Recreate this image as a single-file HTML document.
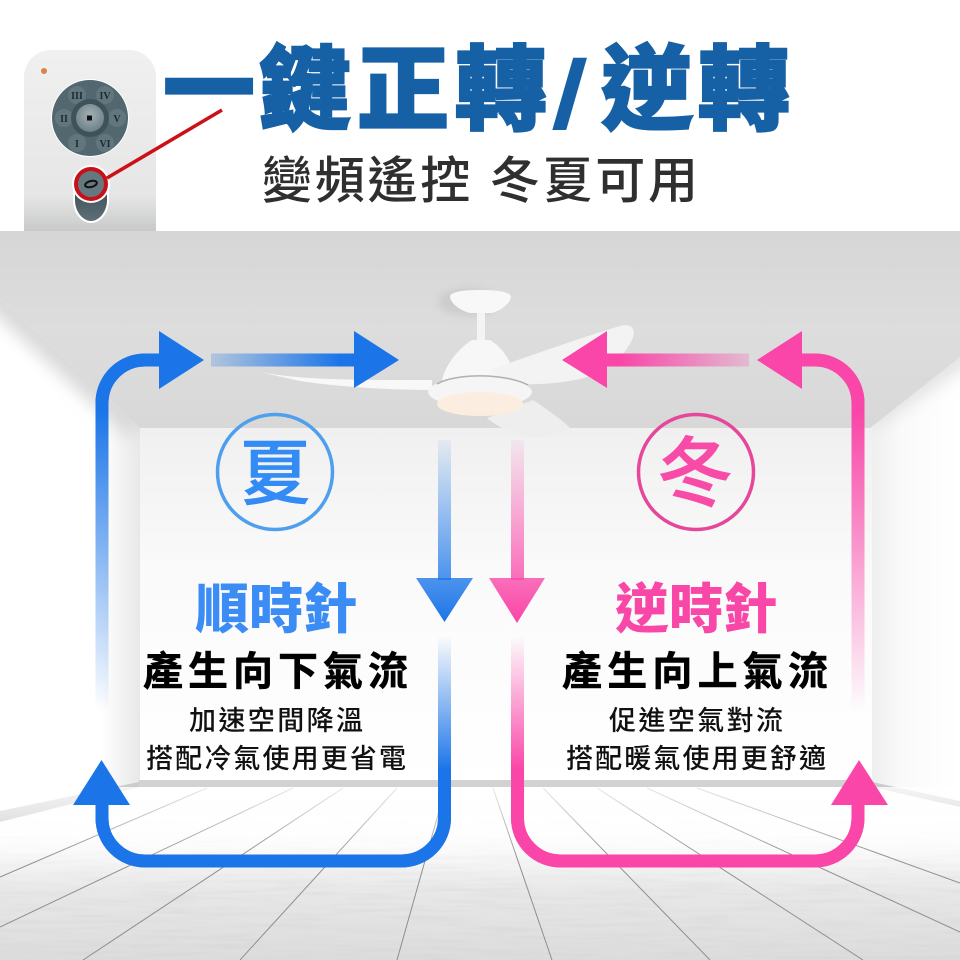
<!DOCTYPE html>
<html><head><meta charset="utf-8">
<style>html,body{margin:0;padding:0;background:#fff}svg{display:block}
text{font-family:"Liberation Sans","Noto Sans CJK TC",sans-serif}</style></head>
<body>
<svg width="960" height="960" viewBox="0 0 960 960" xmlns="http://www.w3.org/2000/svg">
<defs>
<linearGradient id="ceil" x1="0" y1="0" x2="0" y2="1"><stop offset="0" stop-color="#d6d6d6"/><stop offset=".5" stop-color="#dddddd"/><stop offset="1" stop-color="#d8d8d8"/></linearGradient>
<linearGradient id="back" x1="0" y1="0" x2="0" y2="1"><stop offset="0" stop-color="#f0f0f0"/><stop offset=".4" stop-color="#fafafa"/><stop offset="1" stop-color="#fff"/></linearGradient>
<linearGradient id="floor" gradientUnits="userSpaceOnUse" x1="0" y1="787" x2="0" y2="960"><stop offset="0" stop-color="#fff"/><stop offset=".25" stop-color="#fcfcfc"/><stop offset=".5" stop-color="#ebebeb"/><stop offset="1" stop-color="#dcdcdc"/></linearGradient>
<linearGradient id="fade" gradientUnits="userSpaceOnUse" x1="0" y1="787" x2="0" y2="860"><stop offset="0" stop-color="#fff" stop-opacity=".8"/><stop offset="1" stop-color="#fff" stop-opacity="0"/></linearGradient>
<linearGradient id="fadeM" gradientUnits="userSpaceOnUse" x1="0" y1="815" x2="0" y2="890"><stop offset="0" stop-color="#fff" stop-opacity="1"/><stop offset="1" stop-color="#fff" stop-opacity="0"/></linearGradient>
<linearGradient id="lwall" x1="0" y1="0" x2="1" y2="0"><stop offset="0" stop-color="#fff"/><stop offset=".72" stop-color="#fff"/><stop offset="1" stop-color="#e8e8e8"/></linearGradient>
<linearGradient id="rwall" x1="0" y1="0" x2="1" y2="0"><stop offset="0" stop-color="#eeeeee"/><stop offset=".35" stop-color="#fafafa"/><stop offset="1" stop-color="#fff"/></linearGradient>
<linearGradient id="rem" x1="0" y1="0" x2="0" y2="1"><stop offset="0" stop-color="#f0f0f0"/><stop offset=".8" stop-color="#e6e6e6"/><stop offset="1" stop-color="#c8caca"/></linearGradient>
<linearGradient id="bh" gradientUnits="userSpaceOnUse" x1="211" y1="0" x2="340" y2="0"><stop offset="0" stop-color="#1b75e8" stop-opacity=".22"/><stop offset="1" stop-color="#1b75e8"/></linearGradient>
<linearGradient id="ph" gradientUnits="userSpaceOnUse" x1="749" y1="0" x2="620" y2="0"><stop offset="0" stop-color="#f946a8" stop-opacity=".22"/><stop offset="1" stop-color="#f946a8"/></linearGradient>
<linearGradient id="bd1" gradientUnits="userSpaceOnUse" x1="0" y1="440" x2="0" y2="622"><stop offset="0" stop-color="#1b75e8" stop-opacity=".06"/><stop offset="1" stop-color="#1b75e8"/></linearGradient>
<linearGradient id="pd1" gradientUnits="userSpaceOnUse" x1="0" y1="440" x2="0" y2="622"><stop offset="0" stop-color="#f946a8" stop-opacity=".06"/><stop offset="1" stop-color="#f946a8"/></linearGradient>
<linearGradient id="bd2" gradientUnits="userSpaceOnUse" x1="0" y1="636" x2="0" y2="770"><stop offset="0" stop-color="#1b75e8" stop-opacity="0"/><stop offset="1" stop-color="#1b75e8"/></linearGradient>
<linearGradient id="pd2" gradientUnits="userSpaceOnUse" x1="0" y1="636" x2="0" y2="770"><stop offset="0" stop-color="#f946a8" stop-opacity="0"/><stop offset="1" stop-color="#f946a8"/></linearGradient>
<linearGradient id="bup" gradientUnits="userSpaceOnUse" x1="0" y1="410" x2="0" y2="712"><stop offset="0" stop-color="#1b75e8"/><stop offset="1" stop-color="#1b75e8" stop-opacity="0"/></linearGradient>
<linearGradient id="pup" gradientUnits="userSpaceOnUse" x1="0" y1="410" x2="0" y2="712"><stop offset="0" stop-color="#f946a8"/><stop offset="1" stop-color="#f946a8" stop-opacity="0"/></linearGradient>
<linearGradient id="pill" x1="0" y1="0" x2="0" y2="1"><stop offset="0" stop-color="#3f5159"/><stop offset="1" stop-color="#5d7079"/></linearGradient>
<radialGradient id="btn" cx=".5" cy=".4" r=".6"><stop offset="0" stop-color="#a3b1b6"/><stop offset="1" stop-color="#6d8088"/></radialGradient>
<filter id="b4" x="-30%" y="-30%" width="160%" height="160%"><feGaussianBlur stdDeviation="4"/></filter>
<filter id="b8" x="-30%" y="-30%" width="160%" height="160%"><feGaussianBlur stdDeviation="8"/></filter>
<filter id="marble" x="0" y="0" width="100%" height="100%"><feTurbulence type="fractalNoise" baseFrequency=".015 .25" numOctaves="3" seed="4"/><feColorMatrix values="0 0 0 0 .55  0 0 0 0 .55  0 0 0 0 .55  1.6 0 0 0 -.65"/></filter>
<clipPath id="lw"><polygon points="0,298 140,428 140,822 0,822"/></clipPath>
<clipPath id="rw"><polygon points="960,357 870,418 870,810 960,810"/></clipPath>
</defs>

<!-- top white -->
<rect width="960" height="231" fill="#fff"/>

<!-- room -->
<rect y="231" width="960" height="729" fill="#fff"/>
<polygon points="0,298 140,428 140,790 0,822" fill="url(#lwall)"/>
<polygon points="960,357 870,418 870,790 960,808" fill="url(#rwall)"/>
<g clip-path="url(#lw)"><line x1="-50" y1="252" x2="140" y2="428" stroke="#d9d9d9" stroke-width="30" filter="url(#b8)"/></g>
<g clip-path="url(#rw)"><line x1="1010" y1="323" x2="870" y2="418" stroke="#e2e2e2" stroke-width="22" filter="url(#b8)"/></g>
<rect x="140" y="428" width="732" height="356" fill="url(#back)"/>
<polygon points="0,231 960,231 960,357 870,428 140,428 0,298" fill="url(#ceil)"/>

<!-- floor -->
<polygon points="0,822 140,787 872,787 960,808 960,960 0,960" fill="url(#floor)"/>
<rect x="0" y="815" width="960" height="145" filter="url(#marble)" opacity=".28"/>
<rect x="0" y="815" width="960" height="75" fill="url(#fadeM)"/>
<rect x="139" y="780" width="733" height="7" fill="#d2d2d2"/>
<polygon points="0,811 139,782 139,787 0,822" fill="#cccccc"/>
<polygon points="872,782 960,801 960,807 872,787" fill="#cccccc"/>
<g stroke="#8e8e8e" stroke-width="1" fill="none">
<line x1="83" y1="960" x2="343" y2="788"/>
<line x1="240" y1="960" x2="397" y2="788"/>
<line x1="397" y1="960" x2="445" y2="790"/>
<line x1="0" y1="927" x2="293" y2="788"/>
<line x1="0" y1="877" x2="207" y2="788"/>
<line x1="552" y1="960" x2="493" y2="788"/>
<line x1="710" y1="960" x2="543" y2="788"/>
<line x1="863" y1="960" x2="597" y2="788"/>
<line x1="960" y1="932" x2="647" y2="788"/>
<line x1="960" y1="883" x2="697" y2="788"/>
</g>
<rect y="787" width="960" height="73" fill="url(#fade)"/>

<!-- fan -->
<g>
<ellipse cx="468" cy="302" rx="30" ry="14" fill="#bbb" opacity=".45" filter="url(#b4)"/>
<path d="M255,371 C300,381 370,380 432,380 L432,390 C390,390 340,387 300,381 Z" fill="#f8f8f8"/>
<path d="M487,418 L533,400 C548,410 562,420 570,428 C560,434 545,438 530,437 C515,435 497,427 487,418 Z" fill="#eeeeee"/>
<path d="M450,297 C450,292 462,290 480,290 C498,290 511,292 511,297 C510,304 500,311 492,313 L470,313 C461,311 451,304 450,297 Z" fill="#f8f8f8"/>
<rect x="477" y="313" width="8" height="28" fill="#f4f4f4"/>
<path d="M442,380 C446,362 462,346 472,340 L490,340 C503,348 512,362 516,380 Z" fill="#f7f7f7"/>
<path d="M490,370 C540,352 590,335 620,326 C630,323 636,328 633,337 C628,352 610,370 587,377 C565,384 530,385 510,384 Z" fill="#f3f3f3"/>
<ellipse cx="480" cy="392" rx="52" ry="15" fill="#f5f5f5"/>
<path d="M437,384 C455,373 505,373 528,385" fill="none" stroke="#b0b0b0" stroke-width="1.500"/>
<ellipse cx="480" cy="404" rx="43" ry="12" fill="#fbeee0"/>
</g>

<!-- blue arrows -->
<path d="M102,712 V403 A43,43 0 0 1 145,360 H165" fill="none" stroke="url(#bup)" stroke-width="13"/>
<path d="M102,410 V403 A43,43 0 0 1 145,360 H165" fill="none" stroke="#1b75e8" stroke-width="13"/>
<polygon points="159,331 159,389 204,360" fill="#1b75e8"/>
<rect x="211" y="353.500" width="145" height="13" fill="url(#bh)"/>
<polygon points="354,331 354,388 399,360" fill="#1b75e8"/>
<rect x="438" y="440" width="13" height="140" fill="url(#bd1)"/>
<polygon points="416,578 473,578 444.500,622" fill="url(#bd1)"/>
<path d="M444.500,636 V818 A43,43 0 0 1 401.500,861 H145 A43,43 0 0 1 102,818 V800" fill="none" stroke="url(#bd2)" stroke-width="13"/>
<path d="M444.500,770 V818 A43,43 0 0 1 401.500,861 H145 A43,43 0 0 1 102,818 V800" fill="none" stroke="#1b75e8" stroke-width="13"/>
<polygon points="101.500,760 73,805 130,805" fill="#1b75e8"/>

<!-- pink arrows -->
<path d="M858,712 V403 A43,43 0 0 0 815,360 H795" fill="none" stroke="url(#pup)" stroke-width="13"/>
<path d="M858,410 V403 A43,43 0 0 0 815,360 H795" fill="none" stroke="#f946a8" stroke-width="13"/>
<polygon points="802,331 802,389 757,360" fill="#f946a8"/>
<rect x="605" y="353.500" width="144" height="13" fill="url(#ph)"/>
<polygon points="607,331 607,388 562,360" fill="#f946a8"/>
<rect x="511" y="440" width="13" height="140" fill="url(#pd1)"/>
<polygon points="489,578 545,578 517,623" fill="url(#pd1)"/>
<path d="M517.500,636 V818 A43,43 0 0 0 560.500,861 H815 A43,43 0 0 0 858,818 V800" fill="none" stroke="url(#pd2)" stroke-width="13"/>
<path d="M517.500,770 V818 A43,43 0 0 0 560.500,861 H815 A43,43 0 0 0 858,818 V800" fill="none" stroke="#f946a8" stroke-width="13"/>
<polygon points="859,760 831,805 888,805" fill="#f946a8"/>

<!-- circles -->
<circle cx="275" cy="472" r="57.500" fill="none" stroke="#4f9fee" stroke-width="3.500"/>
<circle cx="696" cy="472" r="57.500" fill="none" stroke="#e5489b" stroke-width="3.500"/>
<text x="275" y="499" text-anchor="middle" font-size="72" font-weight="500" stroke="#338bf5" stroke-width=".6" fill="#338bf5">夏</text>
<text x="695" y="500" text-anchor="middle" font-size="76" font-weight="500" stroke="#f84ba8" stroke-width=".6" fill="#f84ba8">冬</text>

<!-- labels -->
<text x="276" y="628" text-anchor="middle" font-size="54" font-weight="900" fill="#3b8cf5">順時針</text>
<text x="696" y="628" text-anchor="middle" font-size="54" font-weight="900" fill="#f947a8">逆時針</text>
<text x="143" y="685" font-size="40" font-weight="700" fill="#000" stroke="#000" stroke-width=".5" textLength="265" lengthAdjust="spacing">產生向下氣流</text>
<text x="562" y="685" font-size="40" font-weight="700" fill="#000" stroke="#000" stroke-width=".5" textLength="266" lengthAdjust="spacing">產生向上氣流</text>
<text x="189" y="730" font-size="27" font-weight="500" fill="#111" textLength="174" lengthAdjust="spacing">加速空間降溫</text>
<text x="609" y="730" font-size="27" font-weight="500" fill="#111" textLength="174" lengthAdjust="spacing">促進空氣對流</text>
<text x="146" y="768" font-size="27" font-weight="500" fill="#111" textLength="260" lengthAdjust="spacing">搭配冷氣使用更省電</text>
<text x="566" y="768" font-size="27" font-weight="500" fill="#111" textLength="260" lengthAdjust="spacing">搭配暖氣使用更舒適</text>

<!-- remote -->
<path d="M24,231 V77 A27,27 0 0 1 51,50 H129 A27,27 0 0 1 156,77 V231 Z" fill="url(#rem)"/>
<circle cx="44" cy="71" r="3" fill="#d9824a"/>
<circle cx="90" cy="118" r="39" fill="#fff"/>
<circle cx="90" cy="118" r="38" fill="#52676f"/>
<g fill="#62767e"><circle cx="77" cy="95" r="9"/><circle cx="105" cy="95" r="9"/><circle cx="64" cy="118" r="9"/><circle cx="117" cy="118" r="9"/><circle cx="77" cy="143" r="9"/><circle cx="105" cy="143" r="9"/></g>
<circle cx="90" cy="118" r="19" fill="#3f5159"/>
<circle cx="90" cy="118" r="14" fill="url(#btn)"/>
<rect x="87" y="115.500" width="5" height="5" fill="#111"/>
<g font-size="10" font-weight="700" fill="#1c2a30" text-anchor="middle">
<text x="77" y="99" style="font-family:'Liberation Serif',serif">III</text>
<text x="105" y="99" style="font-family:'Liberation Serif',serif">IV</text>
<text x="64" y="122" style="font-family:'Liberation Serif',serif">II</text>
<text x="117" y="122" style="font-family:'Liberation Serif',serif">V</text>
<text x="77" y="147" style="font-family:'Liberation Serif',serif">I</text>
<text x="105" y="147" style="font-family:'Liberation Serif',serif">VI</text>
</g>
<path d="M73,190 H109 V200 C109,214 100,223 91,223 C82,223 73,214 73,200 Z" fill="#fff"/>
<path d="M75,190 H107 V200 C107,212 99,221 91,221 C83,221 75,212 75,200 Z" fill="url(#pill)"/>
<circle cx="91" cy="184" r="19" fill="#fff"/>
<circle cx="91" cy="184" r="15" fill="#66787f" stroke="#c8101a" stroke-width="4"/>
<ellipse cx="91" cy="184" rx="6" ry="3" fill="none" stroke="#111" stroke-width="2" transform="rotate(-15 91 184)"/>
<line x1="107" y1="178" x2="222" y2="110" stroke="#cc1018" stroke-width="3.500"/>

<!-- title -->
<g font-weight="900" fill="#1661a6" stroke="#1661a6">
<text y="122" font-size="92" stroke-width="2.200" x="163 259 357 455" style="font-family:'Noto Sans CJK TC',sans-serif">一鍵正轉</text>
<text transform="translate(553,116) scale(1.3,1)" x="0" y="0" font-size="70" stroke-width="2.500" style="font-family:'Noto Sans CJK TC',sans-serif">/</text>
<text y="122" font-size="92" stroke-width="2.200" x="601 698" style="font-family:'Noto Sans CJK TC',sans-serif">逆轉</text>
</g>
<text x="262" y="198" font-size="50" font-weight="500" fill="#2f2f2f" textLength="436" lengthAdjust="spacing">變頻遙控 冬夏可用</text>
</svg>
</body></html>
